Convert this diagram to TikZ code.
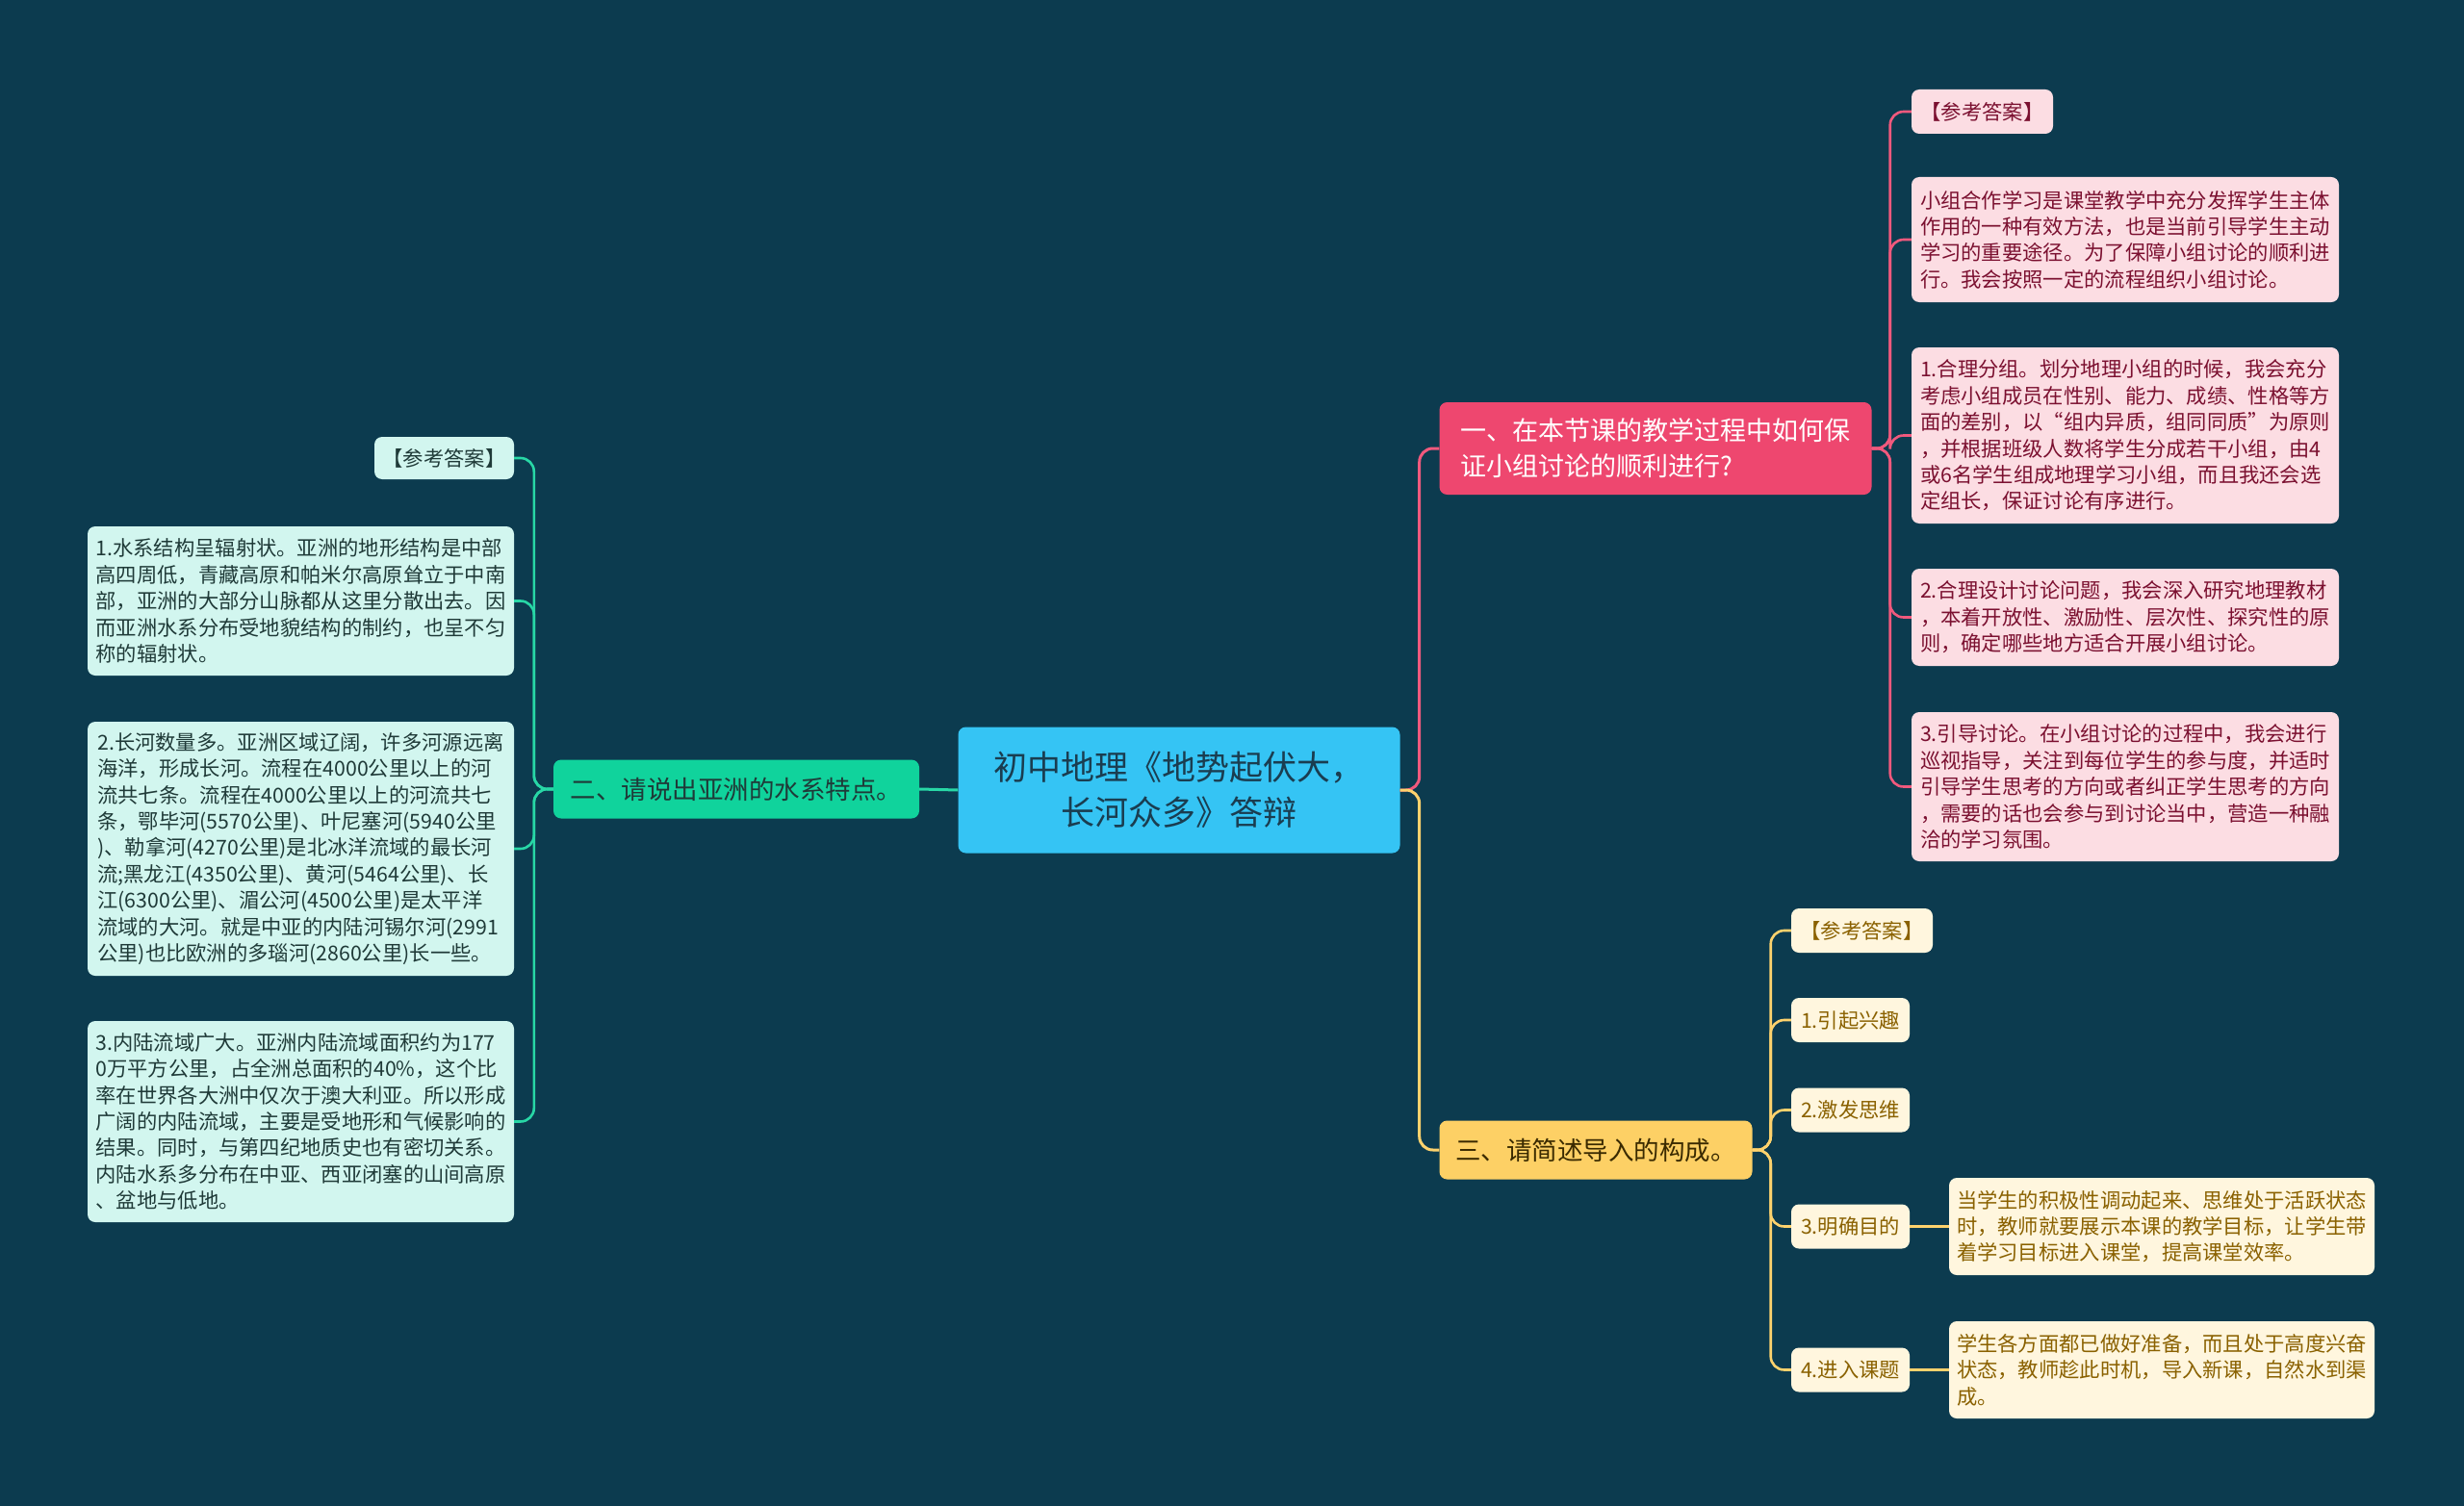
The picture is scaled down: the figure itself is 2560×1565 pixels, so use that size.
\documentclass[tikz,border=0pt]{standalone}
\usepackage{fontspec}
\setmainfont{Noto Sans CJK SC}
\definecolor{bgc}{HTML}{0C3B4F}
\definecolor{rootc}{HTML}{35C4F4}
\definecolor{greenc}{HTML}{10D39C}
\definecolor{pinkc}{HTML}{EE476F}
\definecolor{yellowc}{HTML}{FDD065}
\definecolor{lpink}{HTML}{FCDDE3}
\definecolor{lteal}{HTML}{D2F6EF}
\definecolor{lyellow}{HTML}{FFF6DE}
\definecolor{pinktext}{HTML}{7B1030}
\definecolor{tealtext}{HTML}{1F3A38}
\definecolor{goldtext}{HTML}{8A6100}
\definecolor{roottext}{HTML}{1A3D50}
\definecolor{yellowtext}{HTML}{3A2A00}
\begin{document}
\begin{tikzpicture}[x=1pt,y=-1pt,
box/.style={rounded corners=8pt,inner sep=0pt,align=left},
ans/.style={box,font=\fontsize{21.3}{27.4}\selectfont},
pinkans/.style={ans,fill=lpink,text=pinktext},
tealans/.style={ans,fill=lteal,text=tealtext},
goldans/.style={ans,fill=lyellow,text=goldtext},
pinkline/.style={draw=pinkc!90!white,line width=2.6pt,rounded corners=14pt},
greenline/.style={draw=greenc!90!white,line width=2.6pt,rounded corners=14pt},
goldline/.style={draw=yellowc!95!white,line width=2.6pt,rounded corners=14pt}]
\useasboundingbox (0,0) rectangle (2560,1565);
\fill[bgc] (0,0) rectangle (2560,1565);
\node[box,fill=rootc,text=roottext,align=center,minimum width=459,minimum height=131,font=\fontsize{35}{47}\selectfont] (root) at (1225,821) {初中地理《地势起伏大，\\长河众多》答辩};
\node[box,fill=greenc,text=tealtext,minimum width=380,minimum height=61,font=\fontsize{26.5}{36}\selectfont] (two) at (765,820) {二、请说出亚洲的水系特点。};
\node[box,fill=pinkc,text=white,minimum width=449,minimum height=96,font=\fontsize{27}{37}\selectfont] (one) at (1720,466) {一、在本节课的教学过程中如何保\\证小组讨论的顺利进行?};
\node[box,fill=yellowc,text=yellowtext,minimum width=325,minimum height=61,font=\fontsize{26.5}{36}\selectfont] (three) at (1658,1195) {三、请简述导入的构成。};
\node[pinkans,minimum width=147,minimum height=46] (p0) at (2059.5,116) {【参考答案】};
\node[pinkans,minimum width=444,minimum height=130] (p1) at (2208,249) {小组合作学习是课堂教学中充分发挥学生主体\\作用的一种有效方法，也是当前引导学生主动\\学习的重要途径。为了保障小组讨论的顺利进\\行。我会按照一定的流程组织小组讨论。};
\node[pinkans,minimum width=444,minimum height=183] (p2) at (2208,452.5) {1.合理分组。划分地理小组的时候，我会充分\\考虑小组成员在性别、能力、成绩、性格等方\\面的差别，以“组内异质，组同同质”为原则\\，并根据班级人数将学生分成若干小组，由4\\或6名学生组成地理学习小组，而且我还会选\\定组长，保证讨论有序进行。};
\node[pinkans,minimum width=444,minimum height=101] (p3) at (2208,641.5) {2.合理设计讨论问题，我会深入研究地理教材\\，本着开放性、激励性、层次性、探究性的原\\则，确定哪些地方适合开展小组讨论。};
\node[pinkans,minimum width=444,minimum height=155] (p4) at (2208,817.5) {3.引导讨论。在小组讨论的过程中，我会进行\\巡视指导，关注到每位学生的参与度，并适时\\引导学生思考的方向或者纠正学生思考的方向\\，需要的话也会参与到讨论当中，营造一种融\\洽的学习氛围。};
\node[tealans,minimum width=145,minimum height=44] (l0) at (461.5,476) {【参考答案】};
\node[tealans,minimum width=443,minimum height=155] (l1) at (312.5,624.5) {1.水系结构呈辐射状。亚洲的地形结构是中部\\高四周低，青藏高原和帕米尔高原耸立于中南\\部，亚洲的大部分山脉都从这里分散出去。因\\而亚洲水系分布受地貌结构的制约，也呈不匀\\称的辐射状。};
\node[tealans,minimum width=443,minimum height=264] (l2) at (312.5,882) {2.长河数量多。亚洲区域辽阔，许多河源远离\\海洋，形成长河。流程在4000公里以上的河\\流共七条。流程在4000公里以上的河流共七\\条，鄂毕河(5570公里)、叶尼塞河(5940公里\\)、勒拿河(4270公里)是北冰洋流域的最长河\\流;黑龙江(4350公里)、黄河(5464公里)、长\\江(6300公里)、湄公河(4500公里)是太平洋\\流域的大河。就是中亚的内陆河锡尔河(2991\\公里)也比欧洲的多瑙河(2860公里)长一些。};
\node[tealans,minimum width=443,minimum height=209] (l3) at (312.5,1165.5) {3.内陆流域广大。亚洲内陆流域面积约为177\\0万平方公里，占全洲总面积的40\%，这个比\\率在世界各大洲中仅次于澳大利亚。所以形成\\广阔的内陆流域，主要是受地形和气候影响的\\结果。同时，与第四纪地质史也有密切关系。\\内陆水系多分布在中亚、西亚闭塞的山间高原\\、盆地与低地。};
\node[goldans,minimum width=147,minimum height=46] (y0) at (1934.5,967) {【参考答案】};
\node[goldans,minimum width=123,minimum height=46] (y1) at (1922.5,1060) {1.引起兴趣};
\node[goldans,minimum width=123,minimum height=46] (y2) at (1922.5,1153.5) {2.激发思维};
\node[goldans,minimum width=123,minimum height=46] (y3) at (1922.5,1274.5) {3.明确目的};
\node[goldans,minimum width=123,minimum height=46] (y4) at (1922.5,1423.5) {4.进入课题};
\node[goldans,minimum width=442,minimum height=101] (d3) at (2246,1274.5) {当学生的积极性调动起来、思维处于活跃状态\\时，教师就要展示本课的教学目标，让学生带\\着学习目标进入课堂，提高课堂效率。};
\node[goldans,minimum width=442,minimum height=101] (d4) at (2246,1423.5) {学生各方面都已做好准备，而且处于高度兴奋\\状态，教师趁此时机，导入新课，自然水到渠\\成。};
\draw[greenline,line width=3pt] (root.west) -- (two.east);
\draw[pinkline,line width=3pt] (root.east) -- ++(20,0) |- (one.west);
\draw[goldline,line width=3pt] (root.east) -- ++(20,0) |- (three.west);
\foreach \n in {p0,p1,p2,p3,p4}
\draw[pinkline] (one.east) -- ++(19,0) |- (\n.west);
\foreach \n in {l0,l1,l2,l3}
\draw[greenline] (two.west) -- ++(-20,0) |- (\n.east);
\foreach \n in {y0,y1,y2,y3,y4}
\draw[goldline] (three.east) -- ++(19,0) |- (\n.west);
\draw[goldline] (y3.east) -- (d3.west);
\draw[goldline] (y4.east) -- (d4.west);
\end{tikzpicture}
\end{document}
